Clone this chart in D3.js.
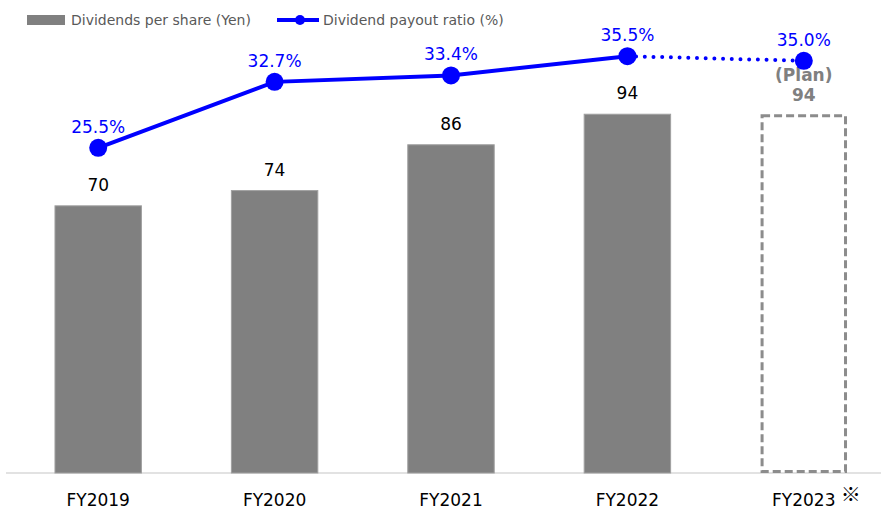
<!DOCTYPE html>
<html>
<head>
<meta charset="utf-8">
<title>Dividends</title>
<style>
body { margin: 0; background: #fff; }
svg { display: block; font-family: 'DejaVu Sans', Verdana, sans-serif; }
</style>
</head>
<body>
<svg></svg>
<script src="https://d3js.org/d3.v7.min.js"></script>
<script>
const years = ['FY2019', 'FY2020', 'FY2021', 'FY2022', 'FY2023'];
const dps = [70, 74, 86, 94, 94];
const payout = [25.5, 32.7, 33.4, 35.5, 35.0];
const planIndex = 4;

const width = 881, height = 510;
const baseY = 473, topY = 15;

const svg = d3.select('svg').attr('width', width).attr('height', height);

const x = d3.scaleBand(years, [10, 892]).paddingInner(0.51).paddingOuter(0.255);
const y = d3.scaleLinear([0, 120], [baseY, topY]);
const z = d3.scaleLinear([-10, 40], [baseY, topY]);
const cx = d => x(d) + x.bandwidth() / 2;

// axis line
svg.append('line')
   .attr('x1', 6).attr('x2', width).attr('y1', baseY).attr('y2', baseY)
   .attr('stroke', '#d9d9d9').attr('stroke-width', 1.5);

// bars
svg.append('g').selectAll('rect')
   .data(years.slice(0, planIndex))
   .join('rect')
   .attr('x', d => x(d))
   .attr('y', (d, i) => y(dps[i]))
   .attr('width', x.bandwidth())
   .attr('height', (d, i) => baseY - y(dps[i]))
   .attr('fill', '#808080')
   .attr('stroke', '#a0a0a0')
   .attr('stroke-width', 1);

// planned bar (dashed)
svg.append('rect')
   .attr('x', x(years[planIndex]) + 1.5)
   .attr('y', y(dps[planIndex]) + 1.5)
   .attr('width', x.bandwidth() - 3)
   .attr('height', baseY - y(dps[planIndex]) - 3)
   .attr('fill', 'none')
   .attr('stroke', '#8c8c8c')
   .attr('stroke-width', 3)
   .attr('stroke-dasharray', '8 4');

// bar labels
svg.append('g').selectAll('text')
   .data(years.slice(0, planIndex))
   .join('text')
   .attr('x', d => cx(d))
   .attr('y', (d, i) => y(dps[i]) - 15)
   .attr('text-anchor', 'middle')
   .attr('font-size', 17)
   .attr('fill', '#000')
   .text((d, i) => dps[i]);

svg.append('text')
   .attr('x', cx(years[planIndex])).attr('y', 81)
   .attr('text-anchor', 'middle').attr('font-size', 17).attr('font-weight', 'bold')
   .attr('fill', '#808080').text('(Plan)');
svg.append('text')
   .attr('x', cx(years[planIndex])).attr('y', 101)
   .attr('text-anchor', 'middle').attr('font-size', 17).attr('font-weight', 'bold')
   .attr('fill', '#808080').text(dps[planIndex]);

// payout line
const line = d3.line().x(d => cx(d[0])).y(d => z(d[1]));
const pts = years.map((d, i) => [d, payout[i]]);

svg.append('path')
   .attr('d', line(pts.slice(0, planIndex)))
   .attr('fill', 'none').attr('stroke', '#0000ff').attr('stroke-width', 4);

svg.append('path')
   .attr('d', line(pts.slice(planIndex - 1)))
   .attr('fill', 'none').attr('stroke', '#0000ff').attr('stroke-width', 4)
   .attr('stroke-linecap', 'round').attr('stroke-dasharray', '0 8.7');

svg.append('g').selectAll('circle')
   .data(pts)
   .join('circle')
   .attr('cx', d => cx(d[0]))
   .attr('cy', d => z(d[1]))
   .attr('r', 9)
   .attr('fill', '#0000ff');

svg.append('g').selectAll('text')
   .data(pts)
   .join('text')
   .attr('x', d => cx(d[0]))
   .attr('y', d => z(d[1]) - 15)
   .attr('text-anchor', 'middle')
   .attr('font-size', 17)
   .attr('fill', '#0000ff')
   .text(d => d[1].toFixed(1) + '%');

// category labels
svg.append('g').selectAll('text')
   .data(years)
   .join('text')
   .attr('x', d => cx(d))
   .attr('y', 506)
   .attr('text-anchor', 'middle')
   .attr('font-size', 17)
   .attr('fill', '#000')
   .text(d => d);

svg.append('text')
   .attr('x', cx(years[planIndex]) + 37).attr('y', 502)
   .attr('font-size', 20).attr('fill', '#000')
   .attr('font-family', "'Noto Sans CJK JP', sans-serif")
   .text('※');

// legend
const lg = svg.append('g');
lg.append('rect').attr('x', 27).attr('y', 15).attr('width', 38).attr('height', 10).attr('fill', '#808080');
lg.append('text').attr('x', 71).attr('y', 25).attr('font-size', 14).attr('fill', '#595959')
  .text('Dividends per share (Yen)');
lg.append('line').attr('x1', 277).attr('x2', 319).attr('y1', 20).attr('y2', 20)
  .attr('stroke', '#0000ff').attr('stroke-width', 4);
lg.append('circle').attr('cx', 300).attr('cy', 20).attr('r', 5).attr('fill', '#0000ff');
lg.append('text').attr('x', 323).attr('y', 25).attr('font-size', 14).attr('fill', '#595959')
  .text('Dividend payout ratio (%)');
</script>
</body>
</html>
